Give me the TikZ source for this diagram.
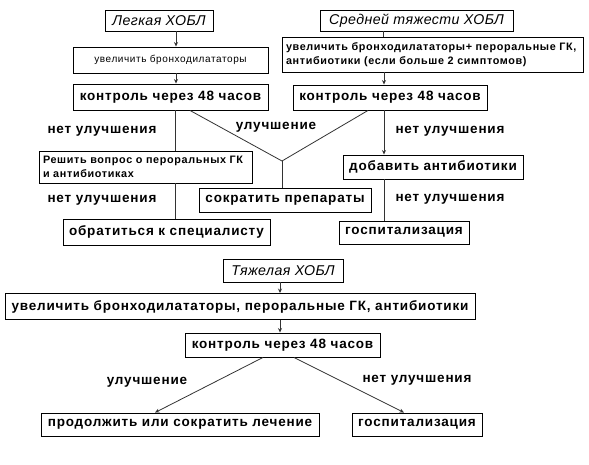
\documentclass[tikz,border=0pt]{standalone}
\usepackage{fontspec}
\setmainfont{Liberation Sans}
\newfontfamily\spacedfont[LetterSpace=6]{Liberation Sans}
\newfontfamily\smallspaced[LetterSpace=6]{Liberation Sans}
\newfontfamily\titfont[LetterSpace=3]{Liberation Sans}
\usetikzlibrary{arrows.meta,calc}
\begin{document}
\begin{tikzpicture}[x=1pt,y=-1pt,
  bx/.style={draw=black,line width=0.9pt,inner sep=0pt,align=center},
  sz/.style 2 args={minimum width=#1pt,minimum height=#2pt},
  big/.style={font=\spacedfont\bfseries\fontsize{13.5}{15}\selectfont},
  tit/.style={font=\titfont\itshape\fontsize{14.2}{15}\selectfont},
  sm/.style={font=\smallspaced\fontsize{10}{12}\selectfont},
  smb/.style={font=\smallspaced\bfseries\fontsize{10.8}{13.5}\selectfont,align=left,inner xsep=4pt},
  lbl/.style={big,inner sep=0pt},
  ln/.style={draw=black!80,line width=0.8pt},
  arr/.style={ln,-{Stealth[length=4.5pt,width=4pt]}}]
\useasboundingbox[fill=white] (0,0) rectangle (589,464);

% top left column
\node[bx,tit,sz={108}{21}] (legk) at (159,20.5) {Легкая ХОБЛ};
\node[bx,sm,sz={195}{26}] (uvl) at (170.5,60) {увеличить бронходилататоры};
\node[bx,big,sz={195}{26}] (kl) at (170.5,97) {контроль через 48 часов};
\node[bx,smb,text width=205pt,minimum height=32pt] (resh) at (145.5,167) {Решить вопрос о пероральных ГК\\и антибиотиках};
\node[bx,big,sz={207}{26}] (obr) at (166.5,232) {обратиться к специалисту};

% top right column
\node[bx,tit,sz={193}{21}] (sred) at (416.5,20.5) {Средней тяжести ХОБЛ};
\node[bx,smb,text width=293pt,minimum height=35pt] (uvm) at (432.5,54.5) {увеличить бронходилататоры+ пероральные ГК,\\антибиотики (если больше 2 симптомов)};
\node[bx,big,sz={194}{25}] (kr) at (390,97.5) {контроль через 48 часов};
\node[bx,big,sz={180}{24}] (dob) at (433,167) {добавить антибиотики};
\node[bx,big,sz={130}{23}] (gosp1) at (404,232.5) {госпитализация};

% middle
\node[bx,big,sz={172}{24}] (sokr) at (285,200) {сократить препараты};

% bottom
\node[bx,tit,sz={120}{23}] (tyazh) at (283,270.5) {Тяжелая ХОБЛ};
\node[bx,big,sz={470}{26}] (uvb) at (240,306.5) {увеличить бронходилататоры, пероральные ГК, антибиотики};
\node[bx,big,sz={195}{24}] (kb) at (282.5,345) {контроль через 48 часов};
\node[bx,big,sz={278}{23}] (prod) at (180,424.5) {продолжить или сократить лечение};
\node[bx,big,sz={130}{23}] (gosp2) at (417,424.5) {госпитализация};

% labels
\node[lbl] (l1) at (102,131) {нет улучшения};
\node[lbl] (l2) at (276,127) {улучшение};
\node[lbl] (l3) at (450,131) {нет улучшения};
\node[lbl] (l4) at (102,200) {нет улучшения};
\node[lbl] (l5) at (450,199) {нет улучшения};
\node[lbl] (l6) at (147,382) {улучшение};
\node[lbl] (l7) at (417,380) {нет улучшения};

% guide coordinates
\coordinate (cxl) at (176,0);
\coordinate (cxl2) at (175,0);
\coordinate (cxr) at (384,0);
\coordinate (cxr0) at (383,0);
\coordinate (cxb) at (280,0);
\coordinate (vv) at (282,161);
\coordinate (kld) at (190,0);
\coordinate (krd) at (368,0);
\coordinate (kbl) at (263,0);
\coordinate (kbr) at (294,0);
\coordinate (prt) at (155,0);
\coordinate (gst) at (404,0);

% connectors
\draw[arr] (legk.south -| cxl) -- (uvl.north -| cxl);
\draw[arr] (uvl.south -| cxl) -- (kl.north -| cxl);
\draw[ln] (kl.south -| cxl2) -- (resh.north -| cxl2);
\draw[ln] (resh.south -| cxl2) -- (obr.north -| cxl2);
\draw[ln] (kl.south -| kld) -- (vv) -- (kr.south -| krd);
\draw[ln] (vv) -- (sokr.north -| vv);
\draw[ln] (sred.south -| cxr0) -- (uvm.north -| cxr0);
\draw[arr] (uvm.south -| cxr) -- (kr.north -| cxr);
\draw[arr] (kr.south -| cxr) -- (dob.north -| cxr);
\draw[ln] (dob.south -| cxr) -- (gosp1.north -| cxr);
\draw[arr] (tyazh.south -| cxb) -- (uvb.north -| cxb);
\draw[arr] (uvb.south -| cxb) -- (kb.north -| cxb);
\draw[arr] (kb.south -| kbl) -- (prod.north -| prt);
\draw[arr] (kb.south -| kbr) -- (gosp2.north -| gst);
\end{tikzpicture}
\end{document}
